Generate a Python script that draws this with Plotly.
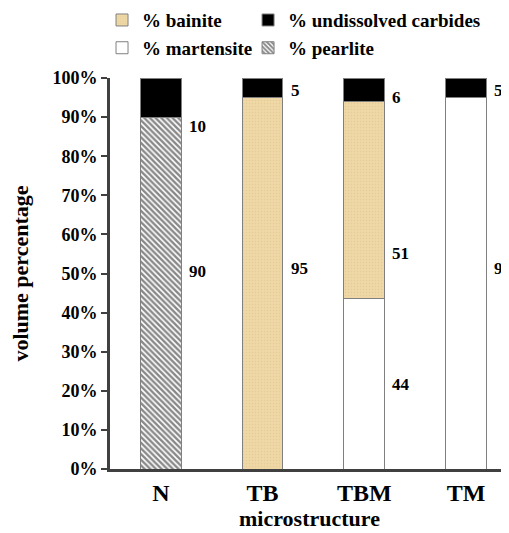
import plotly.graph_objects as go

categories = ["N", "TB", "TBM", "TM"]
pearlite = [90, 0, 0, 0]
martensite = [0, 0, 44, 95]
bainite = [0, 95, 51, 0]
carbides = [10, 5, 6, 5]

# label vertical positions (percent of axis) for the value annotations
label_y = {
    "pearlite": [50.4, None, None, None],
    "martensite": [None, None, 21.5, 51.4],
    "bainite": [None, 51.4, 55.2, None],
    "carbides": [87.5, 96.7, 95.1, 96.9],
}

FONT = "Liberation Serif, Times New Roman, serif"
OUTLINE = "#808080"

def nz(vals):
    return [v if v else None for v in vals]

fig = go.Figure()
series = [
    ("pearlite", "% pearlite", pearlite,
     dict(color="white", pattern=dict(shape="\\", fgcolor="#111111", bgcolor="white", size=4, solidity=0.6)), "legend4"),
    ("martensite", "% martensite", martensite, dict(color="white"), "legend3"),
    ("bainite", "% bainite", bainite,
     dict(color="#ECD49F", pattern=dict(shape=".", fgcolor="#DCC088", bgcolor="#EFD8A6", size=3, solidity=0.2)), "legend"),
    ("carbides", "% undissolved carbides", carbides, dict(color="black"), "legend2"),
]
for key, name, vals, marker, lg in series:
    m = dict(marker)
    m["line"] = dict(color=OUTLINE, width=1)
    fig.add_trace(go.Bar(
        x=categories, y=nz(vals), name=name, marker=m, width=0.4,
        legend=lg, hoverinfo="skip",
    ))

annotations = []
for key, name, vals, marker, lg in series:
    for i, v in enumerate(vals):
        ly = label_y[key][i]
        if v and ly is not None:
            annotations.append(dict(
                x=categories[i], y=ly, xref="x", yref="y", text=str(v),
                showarrow=False, xanchor="left", xshift=26,
                font=dict(family=FONT, size=17, color="black", weight="bold"),
            ))

legend_font = dict(family=FONT, size=19, weight="bold", color="black")

def leg(x, y):
    return dict(
        orientation="h", x=x, y=y, xanchor="left", yanchor="middle",
        font=legend_font, bgcolor="rgba(0,0,0,0)", itemwidth=30,
    )

fig.update_layout(
    width=501, height=525,
    margin=dict(l=102, r=0, t=70, b=64, autoexpand=False),
    paper_bgcolor="white", plot_bgcolor="white",
    barmode="stack", barnorm="percent",
    font=dict(family=FONT, color="black"),
    annotations=annotations,
    legend=leg(-0.02, 1.148),
    legend2=leg(0.346, 1.148),
    legend3=leg(-0.02, 1.077),
    legend4=leg(0.346, 1.077),
    showlegend=True,
)
fig.update_xaxes(
    range=[-0.5, 3.423], showline=True, linecolor="#404040", linewidth=3,
    ticks="", showgrid=False, zeroline=False,
    tickfont=dict(family=FONT, size=24, weight="bold"),
    title=dict(text="microstructure", font=dict(family=FONT, size=22, weight="bold"), standoff=6),
)
fig.update_yaxes(
    range=[0, 100], dtick=10, ticksuffix="%", showline=True, linecolor="#404040",
    linewidth=3, ticks="outside", ticklen=6, tickcolor="#404040", tickwidth=1.5,
    showgrid=False, zeroline=False,
    tickfont=dict(family=FONT, size=18, weight="bold"),
    title=dict(text="volume percentage", font=dict(family=FONT, size=22, weight="bold"), standoff=21),
)

fig.write_html("out.html")
